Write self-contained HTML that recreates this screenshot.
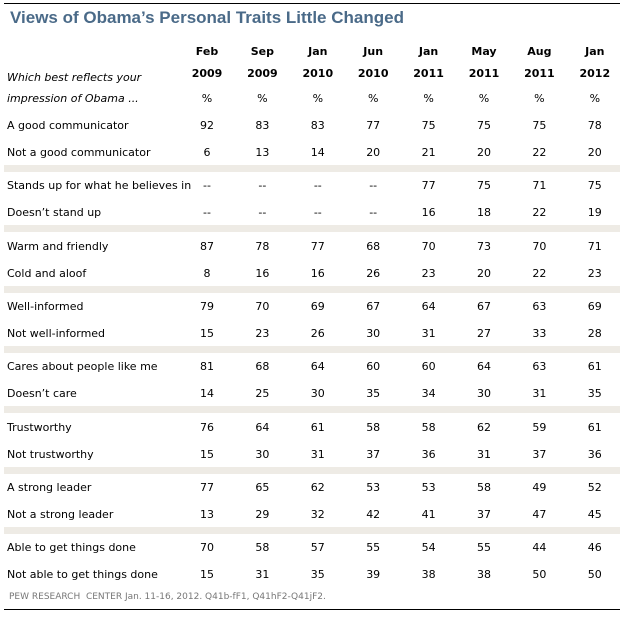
<!DOCTYPE html>
<html><head><meta charset="utf-8"><style>
body{margin:0;width:622px;height:617px;background:#fff;position:relative;overflow:hidden;font-family:"DejaVu Sans","Liberation Sans",sans-serif;font-size:11px;color:#000}
.a{position:absolute;white-space:nowrap}
.c{position:absolute;width:50px;margin-left:-25px;text-align:center}
.band{position:absolute;left:4px;width:616px;height:7px;background:#eeebe5}
.h{font-weight:bold}
</style></head><body>
<div class="a" style="left:4px;top:3px;width:616px;height:1px;background:#000"></div>
<div class="a" style="left:10px;top:8px;font-family:'Liberation Sans',sans-serif;font-size:17px;font-weight:bold;color:#4a6a88">Views of Obama’s Personal Traits Little Changed</div>
<div class="a" style="left:7px;top:71px;font-style:italic">Which best reflects your</div>
<div class="a" style="left:7px;top:92px;font-style:italic">impression of Obama ...</div>
<div id="t"></div>
<div class="a" style="left:9px;top:592px;font-size:9px;color:#777">PEW RESEARCH &nbsp;CENTER Jan. 11-16, 2012. Q41b-fF1, Q41hF2-Q41jF2.</div>
<div class="a" style="left:4px;top:609px;width:616px;height:1px;background:#000"></div>
<script>
const months=["Feb","Sep","Jan","Jun","Jan","May","Aug","Jan"];
const years=["2009","2009","2010","2010","2011","2011","2011","2012"];
const labels=["A good communicator","Not a good communicator","Stands up for what he believes in","Doesn’t stand up","Warm and friendly","Cold and aloof","Well-informed","Not well-informed","Cares about people like me","Doesn’t care","Trustworthy","Not trustworthy","A strong leader","Not a strong leader","Able to get things done","Not able to get things done"];
const values=[
["92","83","83","77","75","75","75","78"],
["6","13","14","20","21","20","22","20"],
["--","--","--","--","77","75","71","75"],
["--","--","--","--","16","18","22","19"],
["87","78","77","68","70","73","70","71"],
["8","16","16","26","23","20","22","23"],
["79","70","69","67","64","67","63","69"],
["15","23","26","30","31","27","33","28"],
["81","68","64","60","60","64","63","61"],
["14","25","30","35","34","30","31","35"],
["76","64","61","58","58","62","59","61"],
["15","30","31","37","36","31","37","36"],
["77","65","62","53","53","58","49","52"],
["13","29","32","42","41","37","47","45"],
["70","58","57","55","54","55","44","46"],
["15","31","35","39","38","38","50","50"]];
const t=document.getElementById('t');
function colX(i){return 207+55.4*i;}
function mk(cls,x,y,txt,name){const d=document.createElement('div');d.className=cls;d.style.left=x+'px';d.style.top=y+'px';d.textContent=txt;


t.appendChild(d);}
months.forEach((m,i)=>{mk('c h',colX(i),45,m,'col-month');mk('c h',colX(i),67,years[i],'col-year');mk('c',colX(i),92,'%','col-unit');});
labels.forEach((l,r)=>{const g=Math.floor(r/2),y=119+g*60.3+(r%2)*27;
mk('a',7,y,l,'row-label');
values[r].forEach((v,i)=>mk('c',colX(i),y,v,'cell-value'));
if(r%2==1&&g<7){const b=document.createElement('div');b.className='band';b.style.top=(y+19)+'px';


t.appendChild(b);}});
</script>
</body></html>
